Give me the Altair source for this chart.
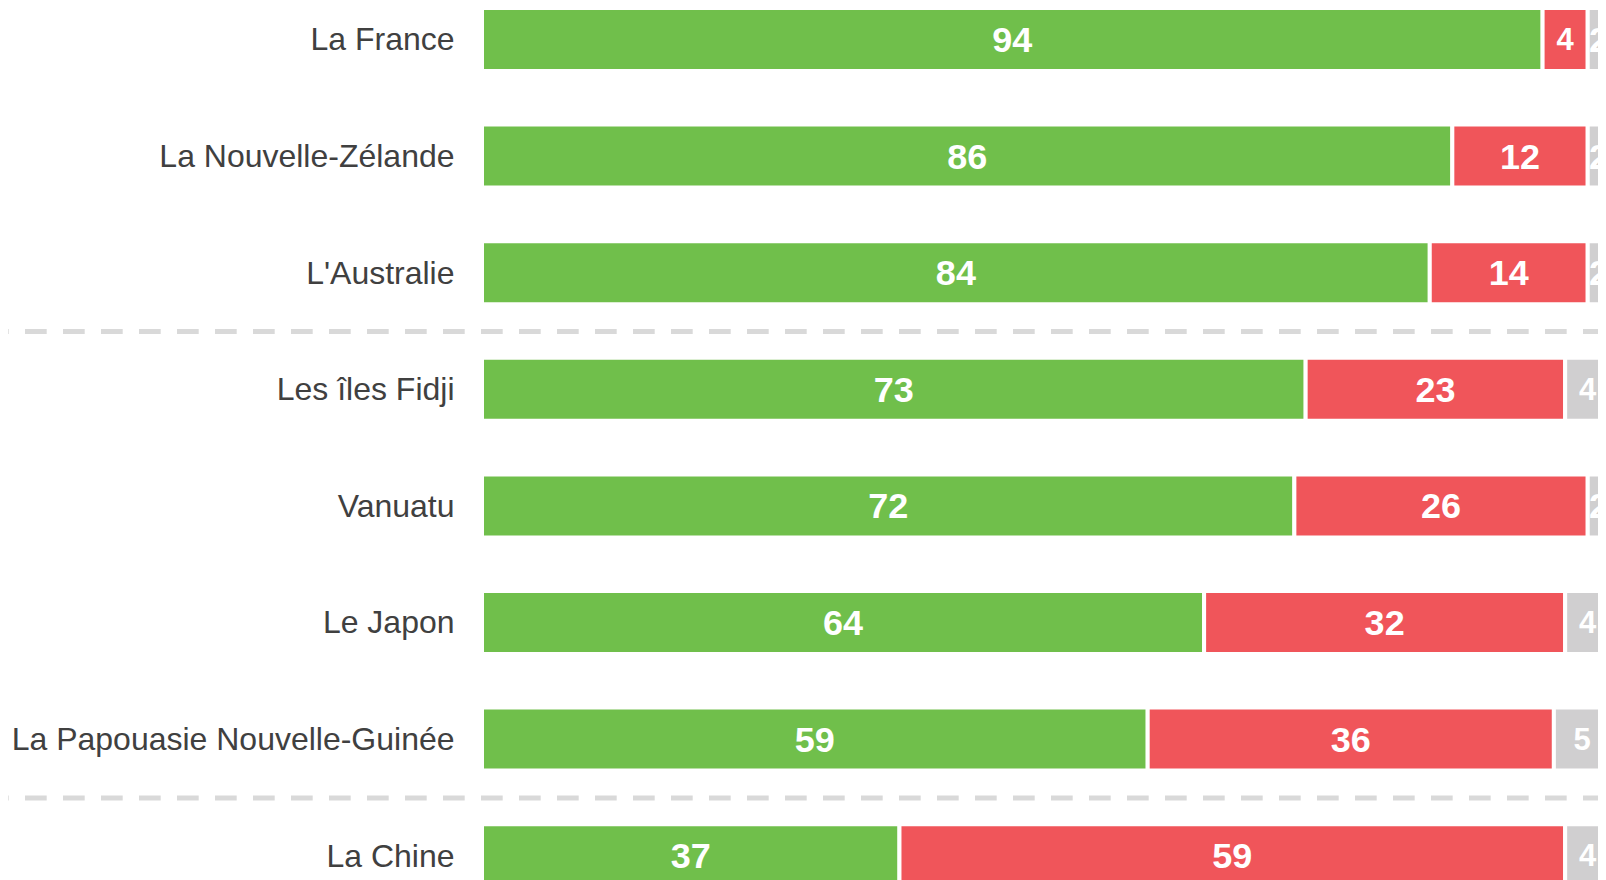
import altair as alt
import pandas as pd

countries = [
    "La France",
    "La Nouvelle-Zélande",
    "L'Australie",
    "Les îles Fidji",
    "Vanuatu",
    "Le Japon",
    "La Papouasie Nouvelle-Guinée",
    "La Chine",
]
favorable = [94, 86, 84, 73, 72, 64, 59, 37]
unfavorable = [4, 12, 14, 23, 26, 32, 36, 59]
no_opinion = [2, 2, 2, 4, 2, 4, 5, 4]
categories = ["Favorable", "Défavorable", "Sans opinion"]
colors = ["#70bf4b", "#f0555a", "#d0cfd0"]
separators_before = ["Les îles Fidji", "La Chine"]

rows = []
for c, f, u, n in zip(countries, favorable, unfavorable, no_opinion):
    for i, (cat, v) in enumerate(zip(categories, [f, u, n])):
        rows.append({"country": c, "category": cat, "order": i, "value": v})
df = pd.DataFrame(rows)

yscale = alt.Scale(domain=countries, paddingInner=0.4597, paddingOuter=0)
# visible part of the 0-100 axis (the last units run past the window edge)
xscale = alt.Scale(domain=[0, 98.91], nice=False, zero=True)

yaxis = alt.Axis(
    domain=False,
    ticks=False,
    grid=False,
    labelFont="Liberation Sans",
    labelFontSize=32,
    labelColor="#404040",
    labelPadding=28,
    labelLimit=700,
    labelOffset=1,
)

base = alt.Chart(df).transform_stack(
    stack="value",
    groupby=["country"],
    as_=["x0", "x1"],
    sort=[alt.SortField("order")],
).transform_calculate(mid="(datum.x0 + datum.x1) / 2")

bars = base.mark_bar(stroke="white", strokeWidth=4, clip=True).encode(
    y=alt.Y("country:N", scale=yscale, sort=countries, title=None, axis=yaxis),
    x=alt.X("x0:Q", scale=xscale, axis=None),
    x2="x1:Q",
    color=alt.Color(
        "category:N",
        scale=alt.Scale(domain=categories, range=colors),
        legend=None,
    ),
)

text = base.mark_text(
    font="Liberation Sans",
    fontWeight="bold",
    color="white",
    align="center",
    baseline="middle",
    dy=1.5,
    clip=True,
).encode(
    y=alt.Y("country:N", scale=yscale, sort=countries, title=None, axis=yaxis),
    x=alt.X("mid:Q", scale=xscale, axis=None),
    text="value:Q",
    size=alt.condition(
        "datum.value >= 3 && datum.value < 10", alt.value(31), alt.value(36)
    ),
)

rules = alt.Chart(pd.DataFrame({"country": separators_before})).mark_rule(
    color="#d9d9d9",
    strokeWidth=5,
    strokeDash=[21.7, 16.3],
    strokeDashOffset=21,
    yOffset=-26.3,
).encode(
    y=alt.Y(
        "country:N",
        scale=yscale,
        sort=countries,
        bandPosition=0,
        title=None,
        axis=yaxis,
    ),
    x=alt.value(-474),
    x2=alt.value(1200),
)

chart = alt.layer(bars, text, rules).properties(
    width=1116,
    height=879.2,
    autosize=alt.AutoSizeParams(type="none"),
    padding={"left": 474, "top": 0, "right": 0, "bottom": 0},
    background="white",
).configure_view(stroke=None)

chart.save("out.html", embed_options={"renderer": "svg", "actions": False})
